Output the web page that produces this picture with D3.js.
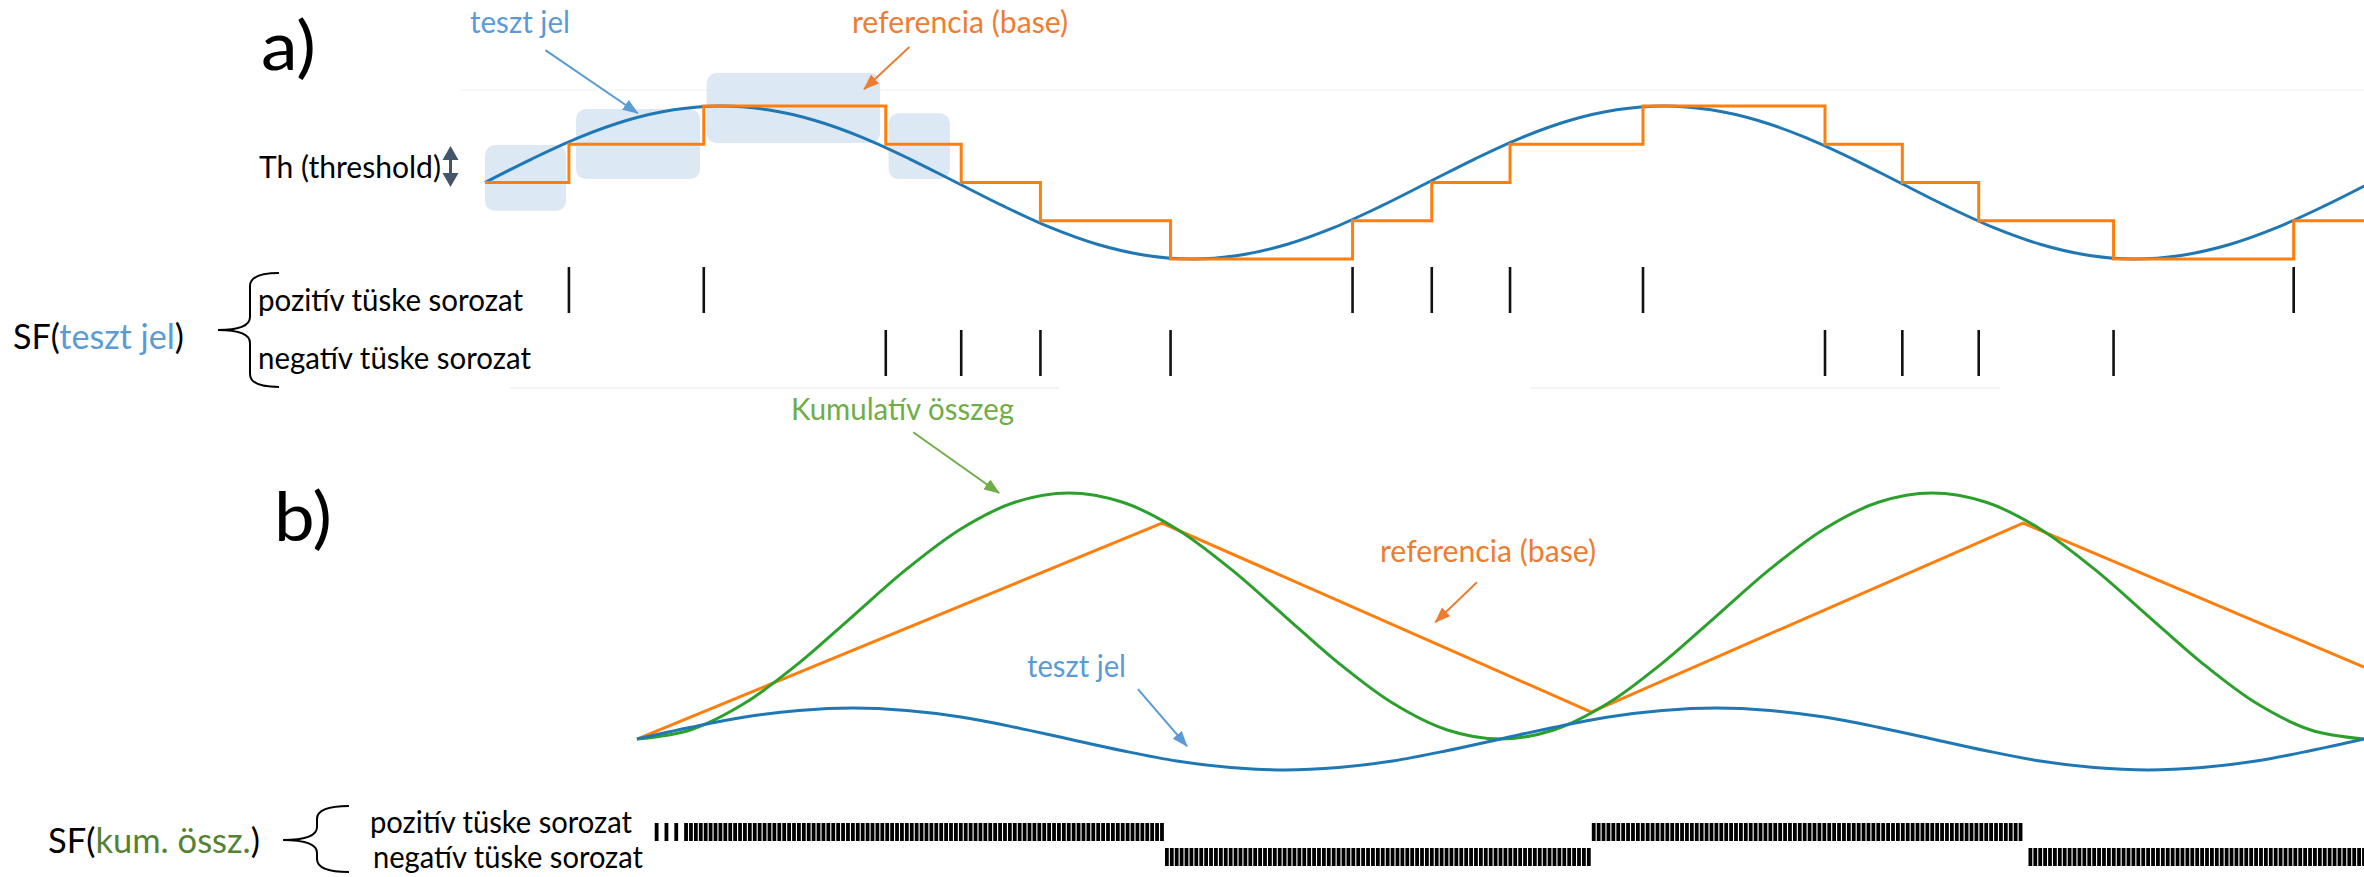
<!DOCTYPE html>
<html>
<head>
<meta charset="utf-8">
<script src="https://cdn.jsdelivr.net/npm/d3@7"></script>
<style>
  body { margin: 0; background: #fff; }
  text { font-family: Lato, "Open Sans", sans-serif; }
</style>
</head>
<body>
<svg id="chart"></svg>
<script>
// ---- a) panel: test signal (in threshold units) sampled every 5 samples
const timeA = [0, 5, 10, 15, 20, 25, 30, 35, 40, 45, 50, 55, 60, 65, 70, 75, 80, 85, 90, 95, 100,
  105, 110, 115, 120, 125, 130, 135, 140, 145, 150, 155, 160, 165, 170, 175, 180, 185, 190, 195, 200];
const testA = [0, 0.62, 1.18, 1.62, 1.90, 2.00, 1.90, 1.62, 1.18, 0.62, 0, -0.62, -1.18, -1.62, -1.90, -2.00, -1.90, -1.62, -1.18, -0.62, 0,
  0.62, 1.18, 1.62, 1.90, 2.00, 1.90, 1.62, 1.18, 0.62, 0, -0.62, -1.18, -1.62, -1.90, -2.00, -1.90, -1.62, -1.18, -0.62, 0];

// reference (base) staircase: level changes at spike times
const refStepT = [0, 8.9, 23.2, 42.5, 50.5, 58.9, 72.7, 92.0, 100.4, 108.7, 122.8, 142.1, 150.3, 158.4, 172.7, 191.8, 200];
const refStepLevel = [0, 1, 2, 1, 0, -1, -2, -1, 0, 1, 2, 1, 0, -1, -2, -1, -1];

// spike trains of the test signal
const posSpikesA = [8.9, 23.2, 92.0, 100.4, 108.7, 122.8, 191.8];
const negSpikesA = [42.5, 50.5, 58.9, 72.7, 142.1, 150.3, 158.4, 172.7];

// threshold boxes (time from/to, level low/high)
const thBoxT0 = [0, 9.65, 23.5, 42.8];
const thBoxT1 = [8.6, 22.8, 41.9, 49.3];
const thBoxLo = [-0.74, 0.09, 1.03, 0.09];
const thBoxHi = [0.98, 1.92, 2.86, 1.81];

// ---- b) panel: test signal, cumulative sum, reference
const timeB = [0, 11, 22, 33, 44, 55, 66, 77, 88, 99, 110, 121, 132, 143, 154, 165, 176,
  187, 198, 209, 220, 231, 242, 253, 264, 275, 286, 297, 308, 319, 330, 341, 352];
const testB = [0, 0.38, 0.71, 0.92, 1, 0.92, 0.71, 0.38, 0, -0.38, -0.71, -0.92, -1, -0.92, -0.71, -0.38, 0,
  0.38, 0.71, 0.92, 1, 0.92, 0.71, 0.38, 0, -0.38, -0.71, -0.92, -1, -0.92, -0.71, -0.38, 0];
const cumB = [0, 0.30, 1.16, 2.45, 3.97, 5.49, 6.78, 7.64, 7.94, 7.64, 6.78, 5.49, 3.97, 2.45, 1.16, 0.30, 0,
  0.30, 1.16, 2.45, 3.97, 5.49, 6.78, 7.64, 7.94, 7.64, 6.78, 5.49, 3.97, 2.45, 1.16, 0.30, 0];
const refBT = [0, 107, 194.5, 282.5, 352];
const refBV = [0, 6.97, 0.87, 6.97, 2.32];

const posSpikesB = [4, 6, 8, 10, 11,
  12, 13, 14, 15, 16, 17, 18, 19, 20, 21, 22, 23, 24, 25, 26, 27, 28, 29, 30, 31, 32, 33, 34, 35, 36, 37, 38, 39,
  40, 41, 42, 43, 44, 45, 46, 47, 48, 49, 50, 51, 52, 53, 54, 55, 56, 57, 58, 59, 60, 61, 62, 63, 64, 65, 66, 67,
  68, 69, 70, 71, 72, 73, 74, 75, 76, 77, 78, 79, 80, 81, 82, 83, 84, 85, 86, 87, 88, 89, 90, 91, 92, 93, 94, 95,
  96, 97, 98, 99, 100, 101, 102, 103, 104, 105, 106, 107,
  195, 196, 197, 198, 199, 200, 201, 202, 203, 204, 205, 206, 207, 208, 209, 210, 211, 212, 213, 214, 215, 216,
  217, 218, 219, 220, 221, 222, 223, 224, 225, 226, 227, 228, 229, 230, 231, 232, 233, 234, 235, 236, 237, 238,
  239, 240, 241, 242, 243, 244, 245, 246, 247, 248, 249, 250, 251, 252, 253, 254, 255, 256, 257, 258, 259, 260,
  261, 262, 263, 264, 265, 266, 267, 268, 269, 270, 271, 272, 273, 274, 275, 276, 277, 278, 279, 280, 281, 282];
const negSpikesB = [
  108, 109, 110, 111, 112, 113, 114, 115, 116, 117, 118, 119, 120, 121, 122, 123, 124, 125, 126, 127, 128, 129,
  130, 131, 132, 133, 134, 135, 136, 137, 138, 139, 140, 141, 142, 143, 144, 145, 146, 147, 148, 149, 150, 151,
  152, 153, 154, 155, 156, 157, 158, 159, 160, 161, 162, 163, 164, 165, 166, 167, 168, 169, 170, 171, 172, 173,
  174, 175, 176, 177, 178, 179, 180, 181, 182, 183, 184, 185, 186, 187, 188, 189, 190, 191, 192, 193, 194,
  284, 285, 286, 287, 288, 289, 290, 291, 292, 293, 294, 295, 296, 297, 298, 299, 300, 301, 302, 303, 304, 305,
  306, 307, 308, 309, 310, 311, 312, 313, 314, 315, 316, 317, 318, 319, 320, 321, 322, 323, 324, 325, 326, 327,
  328, 329, 330, 331, 332, 333, 334, 335, 336, 337, 338, 339, 340, 341, 342, 343, 344, 345, 346, 347, 348, 349,
  350, 351, 352];

const BLUE = '#1f77b4', ORANGE = '#ff7f0e', GREEN = '#2ca02c';
const LBLUE = '#5b9bd5', LORANGE = '#ed7d31', LGREEN = '#70ad47', DGREEN = '#548235';

const svg = d3.select('#chart').attr('width', 2364).attr('height', 877);
svg.append('rect').attr('width', 2364).attr('height', 877).attr('fill', '#fff');

// arrow markers
const defs = svg.append('defs');
[['blue', LBLUE], ['orange', LORANGE], ['green', LGREEN]].forEach(([name, col]) => {
  defs.append('marker')
    .attr('id', 'head-' + name)
    .attr('viewBox', '0 0 16 12')
    .attr('refX', 15).attr('refY', 6)
    .attr('markerWidth', 16).attr('markerHeight', 12)
    .attr('markerUnits', 'userSpaceOnUse')
    .attr('orient', 'auto')
    .append('path')
    .attr('d', 'M0,0 L16,6 L0,12 Z')
    .attr('fill', col);
});

// single-colour label squeezed to the width it has in the original
function label(x, y, size, width, str, color) {
  return svg.append('text')
    .attr('x', x).attr('y', y)
    .attr('font-size', size)
    .attr('fill', color)
    .attr('textLength', width)
    .attr('lengthAdjust', 'spacingAndGlyphs')
    .text(str);
}

// multi-colour label: font size is fitted so the whole thing gets the target width
function mixedLabel(x, y, size, width, parts) {
  const t = svg.append('text').attr('x', x).attr('y', y).attr('font-size', size);
  parts.forEach(([s, c]) => t.append('tspan').attr('fill', c).text(s));
  const w = t.node().getComputedTextLength();
  if (w > 0) t.attr('font-size', size * width / w);
  return t;
}

function bracePath(xEnd, xMid, xNose, y0, yM, y1) {
  const r = 13;
  return `M${xEnd},${y0} Q${xMid},${y0} ${xMid},${y0 + r} L${xMid},${yM - r} ` +
    `Q${xMid},${yM} ${xNose},${yM} Q${xMid},${yM} ${xMid},${yM + r} ` +
    `L${xMid},${y1 - r} Q${xMid},${y1} ${xEnd},${y1}`;
}

// faint rules left over in the original figure
svg.append('line').attr('x1', 459).attr('x2', 2364).attr('y1', 90).attr('y2', 90)
  .attr('stroke', '#f8f8f8').attr('stroke-width', 2);
[[510, 1059], [1530, 2000]].forEach(([a, b]) => {
  svg.append('line').attr('x1', a).attr('x2', b).attr('y1', 388).attr('y2', 388)
    .attr('stroke', '#f4f4f4').attr('stroke-width', 2);
});

// ================= a) =================
const xA = d3.scaleLinear().domain([0, 200]).range([485, 2371]);
const yA = d3.scaleLinear().domain([-2, 2]).range([259, 106]);

const gA = svg.append('g');
gA.selectAll('rect.th')
  .data(thBoxT0)
  .enter().append('rect')
  .attr('class', 'th')
  .attr('x', (d, i) => xA(d))
  .attr('y', (d, i) => yA(thBoxHi[i]))
  .attr('width', (d, i) => xA(thBoxT1[i]) - xA(d))
  .attr('height', (d, i) => yA(thBoxLo[i]) - yA(thBoxHi[i]))
  .attr('rx', 10)
  .attr('fill', '#dde8f5');

const lineA = d3.line()
  .x((d, i) => xA(timeA[i]))
  .y(d => yA(d))
  .curve(d3.curveCatmullRom);
gA.append('path').attr('d', lineA(testA))
  .attr('fill', 'none').attr('stroke', BLUE).attr('stroke-width', 3);

const stepA = d3.line()
  .x((d, i) => xA(refStepT[i]))
  .y(d => yA(d))
  .curve(d3.curveStepAfter);
gA.append('path').attr('d', stepA(refStepLevel))
  .attr('fill', 'none').attr('stroke', ORANGE).attr('stroke-width', 3);

gA.selectAll('line.pos').data(posSpikesA).enter().append('line')
  .attr('x1', d => xA(d)).attr('x2', d => xA(d))
  .attr('y1', 267).attr('y2', 313)
  .attr('stroke', '#111').attr('stroke-width', 2.6);
gA.selectAll('line.neg').data(negSpikesA).enter().append('line')
  .attr('x1', d => xA(d)).attr('x2', d => xA(d))
  .attr('y1', 330).attr('y2', 376)
  .attr('stroke', '#111').attr('stroke-width', 2.6);

// a) annotations
label(261, 70, 68, 55, 'a)', '#000');
label(470, 33, 31, 100, 'teszt jel', LBLUE);
label(852, 33, 31, 216, 'referencia (base)', LORANGE);
gA.append('line')
  .attr('x1', xA(6.4)).attr('y1', yA(3.46)).attr('x2', xA(16.2)).attr('y2', yA(1.81))
  .attr('stroke', LBLUE).attr('stroke-width', 2).attr('marker-end', 'url(#head-blue)');
gA.append('line')
  .attr('x1', xA(45.0)).attr('y1', yA(3.54)).attr('x2', xA(40.2)).attr('y2', yA(2.44))
  .attr('stroke', LORANGE).attr('stroke-width', 2).attr('marker-end', 'url(#head-orange)');

label(259, 178, 31, 182, 'Th (threshold)', '#000');
svg.append('path')
  .attr('d', 'M450.5,146 L458.5,160 L452,160 L452,173 L458.5,173 L450.5,187 L442.5,173 L449,173 L449,160 L442.5,160 Z')
  .attr('fill', '#44546a');

mixedLabel(13, 349, 36, 171, [['SF(', '#000'], ['teszt jel', LBLUE], [')', '#000']]);
svg.append('path').attr('d', bracePath(279, 250, 218, 273, 330, 387))
  .attr('fill', 'none').attr('stroke', '#000').attr('stroke-width', 2);
label(258, 311, 31, 265, 'pozitív tüske sorozat', '#000');
label(258, 369, 31, 273, 'negatív tüske sorozat', '#000');

// ================= b) =================
const xB = d3.scaleLinear().domain([0, 352]).range([637, 2364]);
const yB = d3.scaleLinear().domain([-1, 7.94]).range([770, 493]);
const gB = svg.append('g');

const lineB = d3.line()
  .x((d, i) => xB(timeB[i]))
  .y(d => yB(d))
  .curve(d3.curveCatmullRom);
const refLineB = d3.line()
  .x((d, i) => xB(refBT[i]))
  .y(d => yB(d));

gB.append('path').attr('d', refLineB(refBV))
  .attr('fill', 'none').attr('stroke', ORANGE).attr('stroke-width', 3);
gB.append('path').attr('d', lineB(cumB))
  .attr('fill', 'none').attr('stroke', GREEN).attr('stroke-width', 3);
gB.append('path').attr('d', lineB(testB))
  .attr('fill', 'none').attr('stroke', BLUE).attr('stroke-width', 3);

gB.selectAll('line.pos').data(posSpikesB).enter().append('line')
  .attr('x1', d => xB(d)).attr('x2', d => xB(d))
  .attr('y1', 823).attr('y2', 841)
  .attr('stroke', '#000').attr('stroke-width', 3.8);
gB.selectAll('line.neg').data(negSpikesB).enter().append('line')
  .attr('x1', d => xB(d)).attr('x2', d => xB(d))
  .attr('y1', 848).attr('y2', 866)
  .attr('stroke', '#000').attr('stroke-width', 3.8);

// b) annotations
label(274, 541, 68, 58, 'b)', '#000');
label(791, 420, 31, 223, 'Kumulatív összeg', LGREEN);
gB.append('line')
  .attr('x1', xB(56.3)).attr('y1', yB(9.9)).attr('x2', xB(73.8)).attr('y2', yB(7.94))
  .attr('stroke', LGREEN).attr('stroke-width', 2).attr('marker-end', 'url(#head-green)');
label(1380, 562, 31, 216, 'referencia (base)', LORANGE);
gB.append('line')
  .attr('x1', xB(171.2)).attr('y1', yB(5.06)).attr('x2', xB(162.7)).attr('y2', yB(3.77))
  .attr('stroke', LORANGE).attr('stroke-width', 2).attr('marker-end', 'url(#head-orange)');
label(1027, 677, 31, 99, 'teszt jel', LBLUE);
gB.append('line')
  .attr('x1', xB(102.1)).attr('y1', yB(1.61)).attr('x2', xB(112.1)).attr('y2', yB(-0.23))
  .attr('stroke', LBLUE).attr('stroke-width', 2).attr('marker-end', 'url(#head-blue)');

mixedLabel(48, 853, 36, 212, [['SF(', '#000'], ['kum. össz.', DGREEN], [')', '#000']]);
svg.append('path').attr('d', bracePath(349, 317, 283, 806, 840, 872))
  .attr('fill', 'none').attr('stroke', '#000').attr('stroke-width', 2);
label(370, 833, 31, 262, 'pozitív tüske sorozat', '#000');
label(373, 868, 31, 270, 'negatív tüske sorozat', '#000');
</script>
</body>
</html>
